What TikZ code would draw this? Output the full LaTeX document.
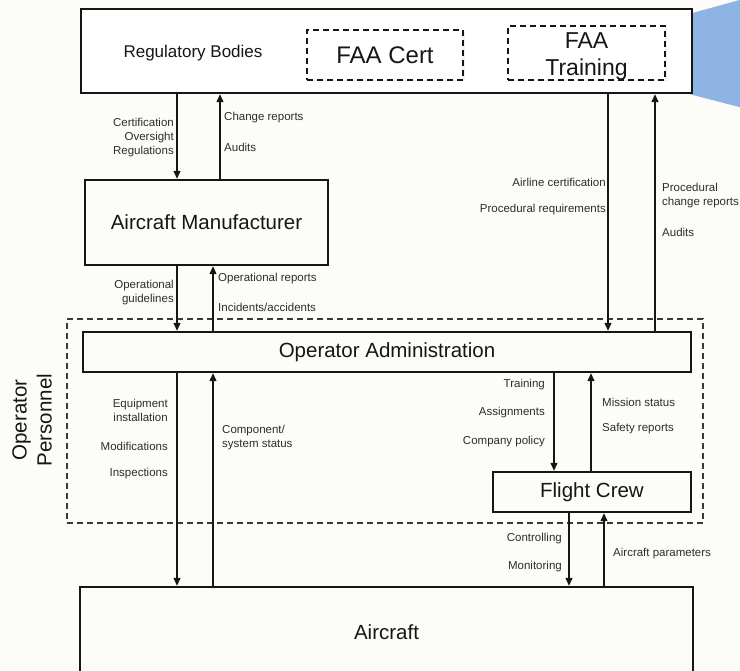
\documentclass[tikz,border=0pt]{standalone}
\usepackage{fontspec}
\setmainfont{Liberation Sans}
\usetikzlibrary{arrows.meta,shadows}
\definecolor{paper}{RGB}{252,252,248}
\definecolor{callout}{RGB}{141,180,226}
\definecolor{ink}{RGB}{22,22,22}
\begin{document}
\begin{tikzpicture}[x=1pt,y=-1pt,
  blk/.style={draw=ink, line width=2.4pt, fill=paper, inner sep=0pt,
    font=\fontsize{20.5}{24}\selectfont, text=ink},
  dbox/.style={draw=ink, line width=1.6pt, dash pattern=on 6pt off 4pt,
    fill=white, inner sep=0pt, align=center, text=ink,
    font=\fontsize{24}{28}\selectfont,
    drop shadow={shadow xshift=1.5pt, shadow yshift=-1.5pt, opacity=0.12}},
  group/.style={draw=ink!85, line width=1.4pt, dash pattern=on 6pt off 4pt},
  flow/.style={draw=ink, line width=1.3pt, -{Triangle[length=8pt,width=7pt]}},
  lbl/.style={font=\fontsize{11.5}{14}\selectfont, text=ink!90, inner sep=0pt},
  lblL/.style={lbl, anchor=west, align=left},
  lblR/.style={lbl, anchor=east, align=right}]

% page frame
\useasboundingbox (0,0) rectangle (740,671);
\clip (0,0) rectangle (740,671);
\fill[paper] (0,0) rectangle (740,671);

% blue callout wedge behind the top box
\fill[callout] (660,22) -- (745,-1.5) -- (745,108.5) -- (660,86.5) -- cycle;

% top level: regulators
\node[blk, fill=white, minimum width=611pt, minimum height=84pt] (reg) at (386.5,51) {};
\node[font=\fontsize{17}{20}\selectfont, text=ink, inner sep=0pt] (regtxt) at (193,53) {Regulatory Bodies};
\node[dbox, minimum width=156pt, minimum height=50pt] (faacert) at (385,55) {FAA Cert};
\node[dbox, minimum width=157pt, minimum height=54pt] (faatrain) at (586.5,53) {};
\node[align=center, text=ink, inner sep=0pt, font=\fontsize{23}{27}\selectfont] (faatraintxt) at (586.5,56.5) {FAA\\Training};

% manufacturer
\node[blk, minimum width=243pt, minimum height=85pt] (mfr) at (206.5,222.5) {Aircraft Manufacturer};

% operator personnel group
\node[group, minimum width=636pt, minimum height=204pt] (personnel) at (385,421) {};
\node[rotate=90, align=center, font=\fontsize{20.5}{25}\selectfont, text=ink, inner sep=0pt] (perstxt) at (32,420) {Operator\\Personnel};

\node[blk, minimum width=608pt, minimum height=40pt] (opadmin) at (387,352) {Operator Administration};
\node[blk, minimum width=198pt, minimum height=40pt] (crew) at (592,492) {Flight Crew};

% the aircraft
\node[blk, minimum width=613pt, minimum height=90pt] (aircraft) at (386.5,632) {Aircraft};

% arrow columns
\coordinate (xa) at (177,0);
\coordinate (xb) at (220,0);
\coordinate (xc) at (213,0);
\coordinate (xd) at (608,0);
\coordinate (xe) at (655,0);
\coordinate (xf) at (554,0);
\coordinate (xg) at (591,0);
\coordinate (xh) at (569,0);
\coordinate (xi) at (604,0);

% regulators <-> manufacturer
\draw[flow] (reg.south -| xa) -- (mfr.north -| xa);
\draw[flow] (mfr.north -| xb) -- (reg.south -| xb);
\node[lblR] (l1) at (174,138) {Certification\\Oversight\\Regulations};
\node[lblL] (l2) at (224,118) {Change reports};
\node[lblL] (l3) at (224,147) {Audits};

% manufacturer <-> operator administration
\draw[flow] (mfr.south -| xa) -- (opadmin.north -| xa);
\draw[flow] (opadmin.north -| xc) -- (mfr.south -| xc);
\node[lblR] (l4) at (174,292.5) {Operational\\guidelines};
\node[lblL] (l5) at (218,279) {Operational reports};
\node[lblL] (l6) at (218,307) {Incidents/accidents};

% regulators <-> operator administration
\draw[flow] (reg.south -| xd) -- (opadmin.north -| xd);
\draw[flow] (opadmin.north -| xe) -- (reg.south -| xe);
\node[lblR] (l7) at (606,182) {Airline certification};
\node[lblR] (l8) at (606,210) {Procedural requirements};
\node[lblL] (l9) at (662,196) {Procedural\\change reports};
\node[lblL] (l10) at (662,232) {Audits};

% operator administration <-> aircraft
\draw[flow] (opadmin.south -| xa) -- (aircraft.north -| xa);
\draw[flow] (aircraft.north -| xc) -- (opadmin.south -| xc);
\node[lblR] (l11) at (168,410.5) {Equipment\\installation};
\node[lblR] (l12) at (168,446) {Modifications};
\node[lblR] (l13) at (168,474) {Inspections};
\node[lblL] (l14) at (222,437.5) {Component/\\system status};

% operator administration <-> flight crew
\draw[flow] (opadmin.south -| xf) -- (crew.north -| xf);
\draw[flow] (crew.north -| xg) -- (opadmin.south -| xg);
\node[lblR] (l15) at (545,385) {Training};
\node[lblR] (l16) at (545,413) {Assignments};
\node[lblR] (l17) at (545,442) {Company policy};
\node[lblL] (l18) at (602,402) {Mission status};
\node[lblL] (l19) at (602,429) {Safety reports};

% flight crew <-> aircraft
\draw[flow] (crew.south -| xh) -- (aircraft.north -| xh);
\draw[flow] (aircraft.north -| xi) -- (crew.south -| xi);
\node[lblR] (l20) at (562,539) {Controlling};
\node[lblR] (l21) at (562,567) {Monitoring};
\node[lblL] (l22) at (613,554) {Aircraft parameters};
\end{tikzpicture}
\end{document}
